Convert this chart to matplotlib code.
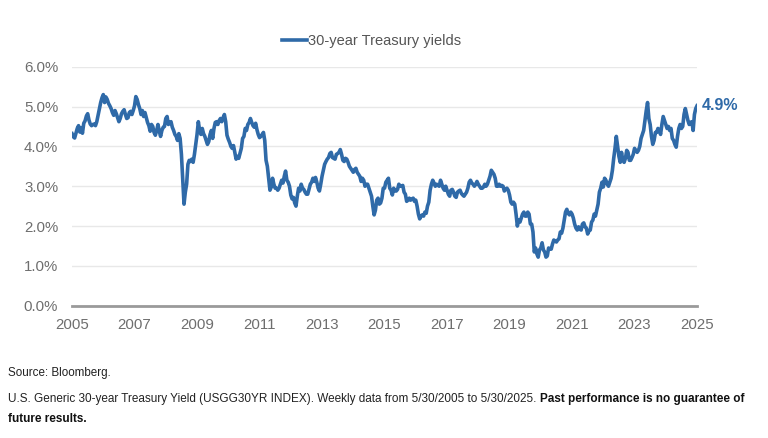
import matplotlib
matplotlib.use("Agg")
import matplotlib.pyplot as plt
import pandas as pd

plt.rcParams["font.family"] = ["Liberation Sans", "DejaVu Sans"]

# 30-year Treasury yield (%) at ~half-month steps, 5/30/2005 -> 5/30/2025
y2005 = [4.32, 4.24, 4.21, 4.33, 4.45, 4.52, 4.36, 4.47, 4.33, 4.58, 4.64, 4.76, 4.82, 4.66, 4.56]
y2006 = [4.52, 4.55, 4.56, 4.52, 4.62, 4.78, 4.95, 5.10, 5.22, 5.30, 5.10, 5.24,
         5.18, 5.08, 5.02, 4.95, 4.85, 4.78, 4.90, 4.82, 4.72, 4.62, 4.70, 4.82]
y2007 = [4.88, 4.92, 4.80, 4.70, 4.72, 4.85, 4.88, 4.80, 4.90, 5.02, 5.25, 5.18,
         5.05, 4.95, 4.80, 4.90, 4.75, 4.85, 4.72, 4.60, 4.52, 4.38, 4.55, 4.50]
y2008 = [4.35, 4.28, 4.40, 4.55, 4.38, 4.25, 4.40, 4.48, 4.50, 4.70, 4.75, 4.55,
         4.60, 4.62, 4.48, 4.40, 4.30, 4.25, 4.15, 4.32, 4.20, 3.80, 3.20, 2.55]
y2009 = [2.85, 3.05, 3.55, 3.65, 3.62, 3.68, 3.60, 3.80, 4.05, 4.30, 4.62, 4.40,
         4.30, 4.45, 4.32, 4.25, 4.15, 4.05, 4.12, 4.30, 4.40, 4.20, 4.45, 4.60]
y2010 = [4.62, 4.55, 4.65, 4.70, 4.62, 4.72, 4.80, 4.62, 4.28, 4.18, 4.10, 4.00,
         3.95, 4.02, 3.85, 3.68, 3.75, 3.70, 3.82, 3.95, 4.20, 4.25, 4.45, 4.40]
y2011 = [4.55, 4.60, 4.70, 4.60, 4.52, 4.48, 4.58, 4.42, 4.30, 4.22, 4.25, 4.30,
         4.35, 4.15, 3.65, 3.50, 3.20, 2.90, 2.98, 3.20, 3.05, 2.95, 2.95, 2.90]
y2012 = [2.95, 3.05, 3.15, 3.08, 3.25, 3.38, 3.15, 3.10, 3.00, 2.78, 2.68, 2.72,
         2.58, 2.50, 2.75, 2.95, 2.88, 3.05, 2.95, 2.92, 2.85, 2.80, 2.80, 2.92]
y2013 = [3.05, 3.10, 3.20, 3.12, 3.22, 3.10, 2.95, 2.88, 3.05, 3.25, 3.40, 3.55,
         3.62, 3.68, 3.72, 3.82, 3.85, 3.72, 3.70, 3.68, 3.80, 3.82, 3.85, 3.92]
y2014 = [3.80, 3.65, 3.62, 3.70, 3.68, 3.60, 3.50, 3.45, 3.40, 3.35, 3.42, 3.45,
         3.35, 3.30, 3.25, 3.12, 3.20, 3.15, 3.00, 3.05, 3.05, 2.95, 2.85, 2.75]
y2015 = [2.50, 2.28, 2.40, 2.65, 2.70, 2.55, 2.58, 2.70, 2.95, 2.95, 3.10, 3.15,
         3.20, 2.95, 2.90, 2.78, 2.95, 2.88, 2.88, 2.92, 3.05, 3.00, 3.00, 3.02]
y2016 = [2.85, 2.80, 2.62, 2.65, 2.70, 2.65, 2.68, 2.70, 2.62, 2.65, 2.50, 2.30,
         2.18, 2.25, 2.28, 2.25, 2.35, 2.32, 2.50, 2.60, 2.90, 3.05, 3.15, 3.08]
y2017 = [3.00, 3.05, 3.02, 3.00, 3.15, 3.05, 2.95, 2.90, 3.00, 2.90, 2.80, 2.75,
         2.90, 2.92, 2.85, 2.75, 2.72, 2.85, 2.88, 2.90, 2.82, 2.78, 2.75, 2.80]
y2018 = [2.85, 2.95, 3.10, 3.15, 3.08, 3.05, 3.00, 3.05, 3.12, 3.05, 3.00, 2.95,
         2.95, 2.98, 3.05, 3.00, 3.05, 3.15, 3.25, 3.40, 3.35, 3.30, 3.20, 3.00]
y2019 = [3.00, 3.05, 3.00, 3.02, 3.00, 2.88, 2.92, 2.95, 2.90, 2.78, 2.60, 2.55,
         2.60, 2.55, 2.30, 2.00, 2.15, 2.10, 2.20, 2.30, 2.35, 2.25, 2.25, 2.35]
y2020 = [2.30, 2.05, 2.05, 1.85, 1.35, 1.45, 1.30, 1.22, 1.40, 1.45, 1.58, 1.40,
         1.35, 1.22, 1.25, 1.45, 1.42, 1.42, 1.55, 1.65, 1.62, 1.60, 1.65, 1.68]
y2021 = [1.85, 1.82, 1.95, 2.15, 2.35, 2.42, 2.32, 2.28, 2.35, 2.30, 2.20, 2.05,
         1.95, 1.90, 1.98, 1.92, 1.90, 2.05, 2.08, 1.98, 1.95, 1.80, 1.88, 1.90]
y2022 = [2.10, 2.15, 2.30, 2.25, 2.40, 2.55, 2.85, 2.95, 3.10, 2.98, 3.20, 3.15,
         3.05, 3.00, 3.10, 3.20, 3.40, 3.70, 3.95, 4.25, 4.00, 3.75, 3.60, 3.85]
y2023 = [3.65, 3.60, 3.70, 3.90, 3.85, 3.65, 3.65, 3.72, 3.80, 3.95, 3.90, 3.85,
         3.90, 4.00, 4.20, 4.30, 4.40, 4.65, 4.90, 5.10, 4.70, 4.55, 4.25, 4.05]
y2024 = [4.15, 4.35, 4.35, 4.45, 4.40, 4.30, 4.55, 4.75, 4.65, 4.55, 4.45, 4.50,
         4.40, 4.45, 4.20, 4.15, 4.05, 3.98, 4.25, 4.45, 4.55, 4.45, 4.50, 4.80]
y2025 = [4.95, 4.80, 4.65, 4.55, 4.60, 4.62, 4.40, 4.80, 4.95, 5.02]

yields = (y2005 + y2006 + y2007 + y2008 + y2009 + y2010 + y2011 + y2012 + y2013 + y2014
          + y2015 + y2016 + y2017 + y2018 + y2019 + y2020 + y2021 + y2022 + y2023 + y2024 + y2025)
dates = pd.date_range("2005-05-30", "2025-05-30", periods=len(yields))

tick_years = [2005, 2007, 2009, 2011, 2013, 2015, 2017, 2019, 2021, 2023, 2025]
tick_dates = [pd.Timestamp(f"{yr}-05-30") for yr in tick_years]
y_ticks = [0, 1, 2, 3, 4, 5, 6]
last_label = "4.9%"

line_color = "#2F6AA8"
grey = "#6E6E6E"

fig = plt.figure(figsize=(7.68, 4.38), dpi=100, facecolor="white")
ax = fig.add_axes([0.0938, 0.302, 0.8138, 0.5457])

ax.plot(dates, yields, color=line_color, lw=2.6, solid_joinstyle="round", zorder=3,
        label="30-year Treasury yields")
ax.set_xlim(dates[0], dates[-1])
ax.set_ylim(0, 6)

ax.set_yticks(y_ticks)
ax.set_yticklabels([f"{v:.1f}%" for v in y_ticks])
ax.set_xticks(tick_dates)
ax.set_xticklabels([str(yr) for yr in tick_years])
ax.tick_params(axis="both", length=0, labelsize=10.8, labelcolor=grey)
ax.tick_params(axis="y", pad=10)
ax.tick_params(axis="x", pad=9)

ax.grid(axis="y", color="#E8E8E8", lw=1.0, zorder=0)
for s in ["top", "right", "left"]:
    ax.spines[s].set_visible(False)
ax.spines["bottom"].set_color("#9A9A9A")
ax.spines["bottom"].set_linewidth(2)

ax.text(1.008, yields[-1], last_label, transform=ax.get_yaxis_transform(),
        color=line_color, fontsize=11.5, fontweight="bold", va="center", ha="left")

ax.legend(loc="lower center", bbox_to_anchor=(0.479, 1.025), frameon=False, fontsize=10.5,
          handlelength=1.7, handletextpad=0.1, labelcolor="#555555")

fig.text(0.0104, 0.148, "Source: Bloomberg.", fontsize=8.4, color="#222222", va="center")
t1 = fig.text(0.0104, 0.088,
              "U.S. Generic 30-year Treasury Yield (USGG30YR INDEX). Weekly data from 5/30/2005 to 5/30/2025. ",
              fontsize=8.45, color="#222222", va="center")
ax.annotate("Past performance is no guarantee of", xy=(1, 0), xycoords=t1, fontsize=8.45,
            color="#111111", fontweight="bold", ha="left", va="bottom", annotation_clip=False)
fig.text(0.0104, 0.043, "future results.", fontsize=8.45, color="#111111", fontweight="bold",
         va="center")

fig.savefig("out.png", dpi=100, facecolor="white")
